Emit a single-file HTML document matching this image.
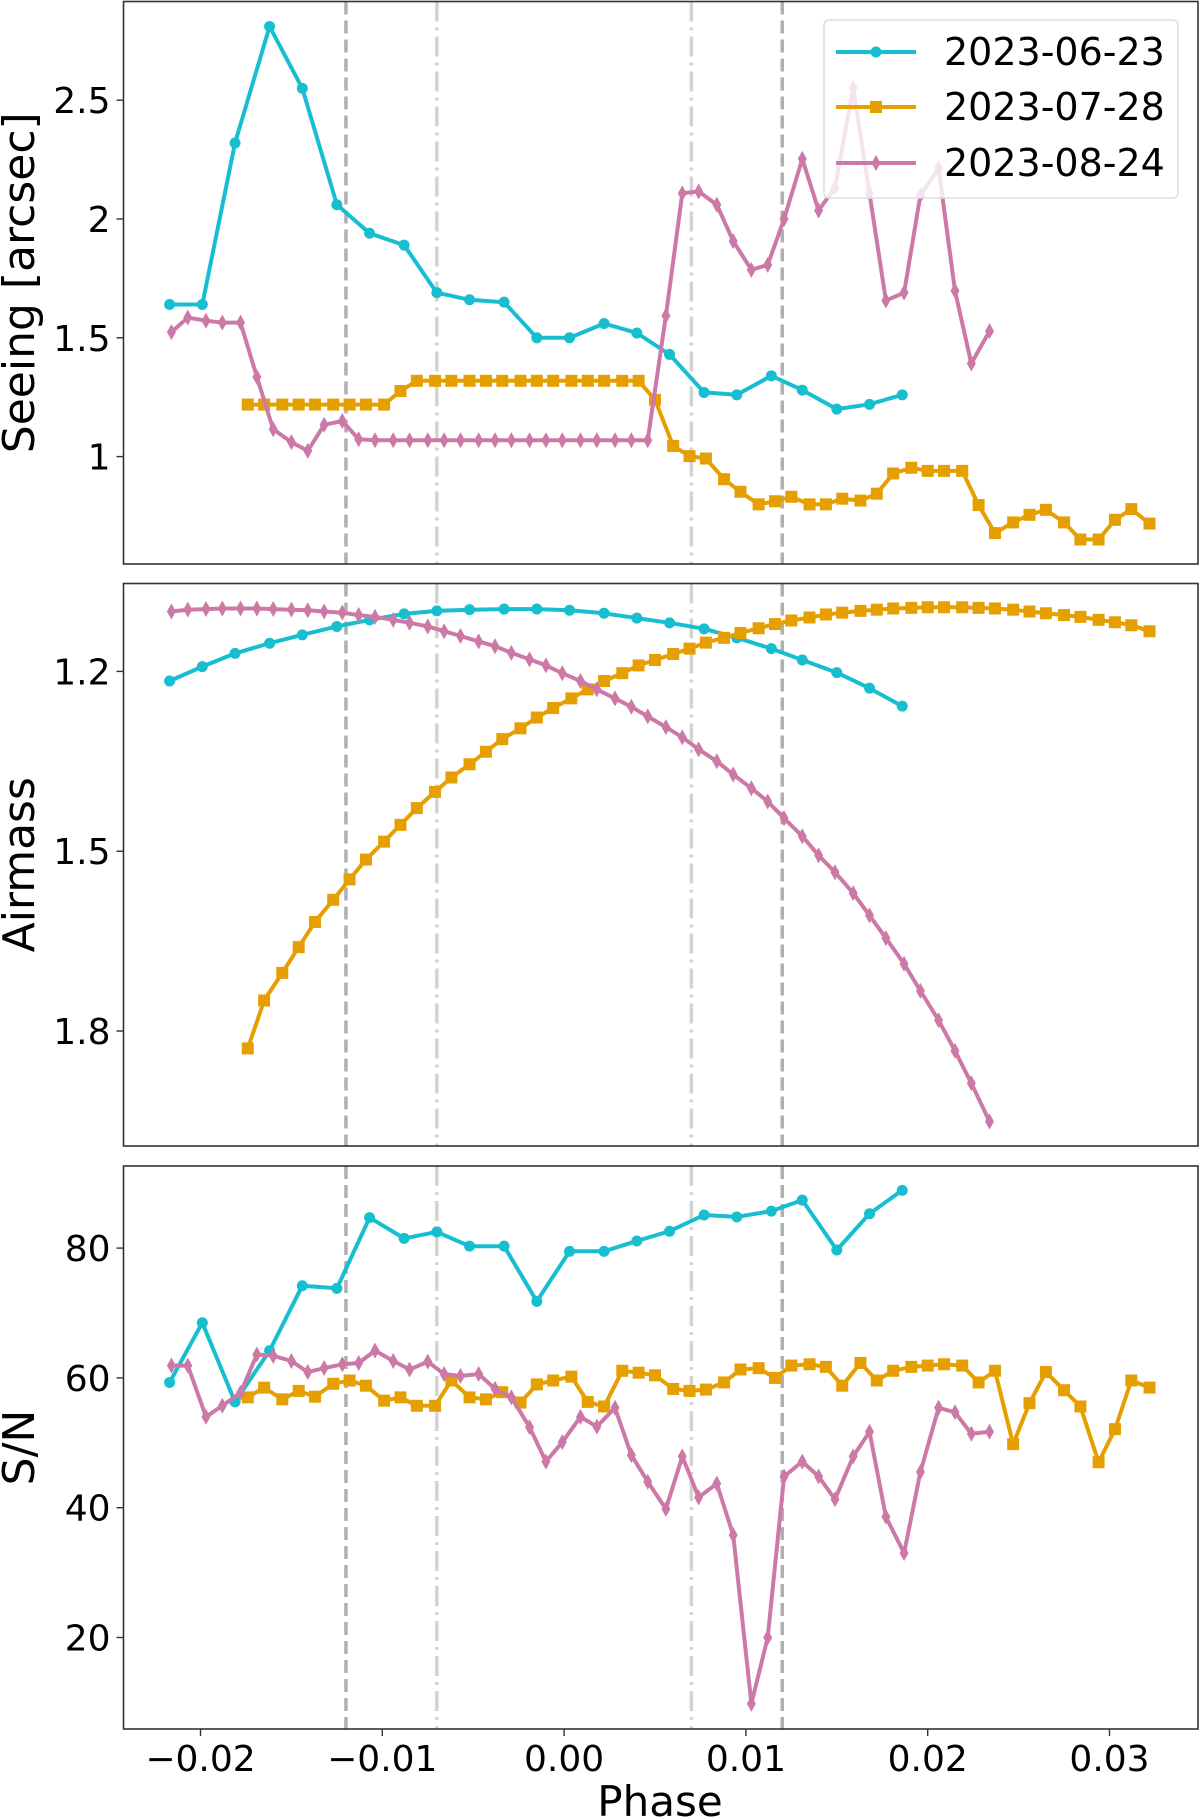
<!DOCTYPE html>
<html><head><meta charset="utf-8">
<style>
html,body{margin:0;padding:0;background:#fff;}
svg{display:block;font-family:"DejaVu Sans","Liberation Sans",sans-serif;}
</style></head>
<body>
<svg id="chart" width="1200" height="1819" viewBox="0 0 1200 1819" xmlns="http://www.w3.org/2000/svg"></svg>
<script>
// ---- data ----
const seriesNames = ["2023-06-23","2023-07-28","2023-08-24"];
const phaseCyan = [-0.0217,-0.0199,-0.0181,-0.0162,-0.0144,-0.0125,-0.0107,-0.0088,-0.0070,-0.0052,-0.0033,-0.0015,0.0003,0.0022,0.0040,0.0058,0.0077,0.0095,0.0114,0.0131,0.0150,0.0168,0.0186];
const phaseOrange = [-0.0174,-0.0165,-0.0155,-0.0146,-0.0137,-0.0127,-0.0118,-0.0109,-0.0099,-0.0090,-0.0081,-0.0071,-0.0062,-0.0052,-0.0043,-0.0034,-0.0024,-0.0015,-0.0006,0.0004,0.0013,0.0022,0.0032,0.0041,0.0050,0.0060,0.0069,0.0078,0.0088,0.0097,0.0107,0.0116,0.0125,0.0135,0.0144,0.0153,0.0163,0.0172,0.0181,0.0191,0.0200,0.0209,0.0219,0.0228,0.0237,0.0247,0.0256,0.0265,0.0275,0.0284,0.0294,0.0303,0.0312,0.0322];
const phasePink = [-0.0216,-0.0207,-0.0197,-0.0188,-0.0178,-0.0169,-0.0160,-0.0150,-0.0141,-0.0132,-0.0122,-0.0113,-0.0104,-0.0094,-0.0085,-0.0075,-0.0066,-0.0057,-0.0047,-0.0038,-0.0029,-0.0019,-0.0010,-0.0001,0.0009,0.0018,0.0028,0.0037,0.0046,0.0056,0.0065,0.0074,0.0084,0.0093,0.0103,0.0112,0.0121,0.0131,0.0140,0.0149,0.0159,0.0168,0.0177,0.0187,0.0196,0.0206,0.0215,0.0224,0.0234];

const seeingCyan = [1.64,1.64,2.32,2.81,2.55,2.06,1.94,1.89,1.69,1.66,1.65,1.50,1.50,1.56,1.52,1.43,1.27,1.26,1.34,1.28,1.20,1.22,1.26];
const seeingOrange = [1.219,1.219,1.219,1.219,1.219,1.219,1.219,1.219,1.219,1.276,1.319,1.319,1.319,1.319,1.319,1.319,1.319,1.319,1.319,1.319,1.319,1.319,1.319,1.319,1.239,1.045,1.002,0.992,0.905,0.852,0.799,0.812,0.831,0.799,0.799,0.823,0.815,0.844,0.929,0.953,0.940,0.940,0.940,0.796,0.678,0.723,0.755,0.776,0.723,0.651,0.651,0.734,0.779,0.718];
const seeingPink = [1.524,1.585,1.572,1.564,1.564,1.335,1.115,1.061,1.024,1.134,1.150,1.073,1.069,1.069,1.069,1.069,1.069,1.069,1.069,1.069,1.069,1.069,1.069,1.069,1.069,1.069,1.069,1.069,1.069,1.593,2.108,2.116,2.060,1.907,1.786,1.807,2.000,2.253,2.036,2.132,2.551,2.108,1.657,1.690,2.100,2.213,1.698,1.392,1.528];

const airCyan = [1.216,1.192,1.170,1.153,1.139,1.125,1.114,1.104,1.099,1.097,1.096,1.096,1.098,1.103,1.111,1.119,1.129,1.144,1.162,1.181,1.202,1.228,1.258];
const airOrange = [1.829,1.749,1.703,1.660,1.618,1.581,1.547,1.514,1.484,1.456,1.428,1.401,1.377,1.355,1.334,1.313,1.295,1.277,1.261,1.245,1.230,1.216,1.203,1.190,1.181,1.171,1.162,1.152,1.144,1.136,1.128,1.121,1.115,1.110,1.105,1.102,1.099,1.097,1.095,1.094,1.093,1.093,1.093,1.094,1.095,1.097,1.100,1.103,1.106,1.109,1.114,1.118,1.123,1.133];
const airPink = [1.100,1.097,1.096,1.095,1.095,1.095,1.096,1.097,1.098,1.100,1.102,1.106,1.109,1.114,1.119,1.125,1.133,1.141,1.150,1.158,1.169,1.180,1.190,1.203,1.216,1.230,1.245,1.259,1.275,1.293,1.310,1.330,1.350,1.372,1.395,1.417,1.445,1.475,1.507,1.535,1.570,1.607,1.645,1.688,1.733,1.782,1.833,1.887,1.951];

const snCyan = [59.3,68.5,56.3,64.2,74.2,73.8,84.7,81.5,82.5,80.3,80.3,71.8,79.5,79.5,81.1,82.6,85.1,84.8,85.7,87.4,79.7,85.3,88.9];
const snOrange = [57.0,58.5,56.7,58.0,57.1,59.1,59.6,58.8,56.5,57.0,55.7,55.7,59.6,57.0,56.7,57.8,56.2,59.0,59.6,60.2,56.3,55.6,61.1,60.8,60.4,58.3,58.0,58.2,59.3,61.3,61.5,60.0,61.9,62.1,61.7,58.8,62.3,59.6,61.1,61.7,61.9,62.1,61.9,59.3,61.1,49.8,56.1,60.9,58.1,55.6,47.0,52.1,59.6,58.5];
const snPink = [61.9,61.9,54.0,55.7,57.7,63.6,63.4,62.6,60.9,61.5,62.1,62.3,64.2,62.6,61.3,62.5,60.6,60.3,60.6,58.3,57.0,52.4,47.1,50.1,54.0,52.5,55.4,48.1,44.0,39.8,47.9,41.6,43.7,35.8,9.8,20.0,44.8,47.1,44.8,41.3,47.9,51.7,38.6,33.0,45.5,55.4,54.7,51.4,51.7];

const xTicks = [-0.02,-0.01,0.00,0.01,0.02,0.03];
const xTickLabels = ["\u22120.02","\u22120.01","0.00","0.01","0.02","0.03"];
const seeingTicks = [1,1.5,2,2.5];
const seeingTickLabels = ["1","1.5","2","2.5"];
const airTicks = [1.2,1.5,1.8];
const airTickLabels = ["1.2","1.5","1.8"];
const snTicks = [20,40,60,80];
const snTickLabels = ["20","40","60","80"];
const dashedLines = [-0.012,0.012];
const dashDotLines = [-0.007,0.007];

// ---- layout / scales ----
const L = 123.5, R = 1198;
const panels = [
  {name:"seeing", top:1.5, bottom:564, y:v=>456.6-(v-1)*237.6, ticks:seeingTicks, labels:seeingTickLabels, title:"Seeing [arcsec]",
   data:[seeingCyan,seeingOrange,seeingPink]},
  {name:"airmass", top:583.5, bottom:1146, y:v=>671.4+(v-1.2)*599.4, ticks:airTicks, labels:airTickLabels, title:"Airmass",
   data:[airCyan,airOrange,airPink]},
  {name:"sn", top:1166, bottom:1729, y:v=>1248.1-(v-80)*6.49, ticks:snTicks, labels:snTickLabels, title:"S/N",
   data:[snCyan,snOrange,snPink]}
];
const xs = p => 564.1 + p*18180;
const phases = [phaseCyan, phaseOrange, phasePink];
const colors = ["#17becf","#e69f00","#cc79a7"];
const markers = ["circle","square","diamond"];

const NS = "http://www.w3.org/2000/svg";
const svg = document.getElementById("chart");
function mk(tag, attrs, parent){
  const e = document.createElementNS(NS, tag);
  for (const k in attrs) e.setAttribute(k, attrs[k]);
  (parent||svg).appendChild(e);
  return e;
}
function marker(g, type, x, y, c){
  let m;
  if (type==="circle") m = mk("circle",{cx:x,cy:y,r:5.5,fill:c},g);
  else if (type==="square") m = mk("rect",{x:x-6,y:y-6,width:12,height:12,fill:c},g);
  else m = mk("polygon",{points:`${x},${y-8} ${x+4.5},${y} ${x},${y+8} ${x-4.5},${y}`,fill:c},g);
  return m;
}

panels.forEach((P, pi) => {
  const g = mk("g",{});
  
  
  const clipId = "clip"+pi;
  const cp = mk("clipPath",{id:clipId});
  mk("rect",{x:L,y:P.top,width:R-L,height:P.bottom-P.top},cp);

  dashedLines.forEach(p => {
    const ln = mk("line",{x1:xs(p),x2:xs(p),y1:P.top,y2:P.bottom,stroke:"#b0b0b0","stroke-width":3.5,"stroke-dasharray":"13,6"},g);
    
    
  });
  dashDotLines.forEach(p => {
    const ln = mk("line",{x1:xs(p),x2:xs(p),y1:P.top,y2:P.bottom,stroke:"#d3d3d3","stroke-width":3.5,"stroke-dasharray":"20,6,3,6"},g);
    
    
  });

  const sg = mk("g",{"clip-path":`url(#${clipId})`},g);
  P.data.forEach((vals, si) => {
    const ph = phases[si];
    const pts = vals.map((v,i)=>`${xs(ph[i]).toFixed(1)},${P.y(v).toFixed(1)}`).join(" ");
    const pl = mk("polyline",{points:pts,fill:"none",stroke:colors[si],"stroke-width":4,"stroke-linejoin":"round"},sg);
    
    
    vals.forEach((v,i)=>{
      const m = marker(sg, markers[si], xs(ph[i]), P.y(v), colors[si]);
      
      
    });
  });

  const fr = mk("rect",{x:L,y:P.top,width:R-L,height:P.bottom-P.top,fill:"none",stroke:"#333","stroke-width":1.6},g);
  
  

  P.ticks.forEach((t,i)=>{
    const y = P.y(t);
    mk("line",{x1:L-7,x2:L,y1:y,y2:y,stroke:"#333","stroke-width":1.4},g);
    const tx = mk("text",{x:L-13,y:y+13,"text-anchor":"end","font-size":36,fill:"#000"},g);
    tx.textContent = P.labels[i];
    
    
  });
  const cy = (P.top+P.bottom)/2;
  const yt = mk("text",{x:0,y:0,transform:`translate(34,${cy}) rotate(-90)`,"text-anchor":"middle","font-size":44,fill:"#000"},g);
  yt.textContent = P.title;
  
  
});

const bp = panels[2];
xTicks.forEach((t,i)=>{
  const x = xs(t);
  mk("line",{x1:x,x2:x,y1:bp.bottom,y2:bp.bottom+7,stroke:"#333","stroke-width":1.4});
  const tx = mk("text",{x:x,y:1771,"text-anchor":"middle","font-size":36,fill:"#000"});
  tx.textContent = xTickLabels[i];
  
  
});
const xt = mk("text",{x:660,y:1816,"text-anchor":"middle","font-size":42,fill:"#000"});
xt.textContent = "Phase";



const lg = mk("g",{});


mk("rect",{x:824,y:20,width:354,height:178,rx:5,fill:"rgba(255,255,255,0.8)",stroke:"#dddddd","stroke-width":1.5},lg);
[52,107,163].forEach((y,si)=>{
  const eg = mk("g",{},lg);
  
  
  mk("line",{x1:836,x2:916,y1:y,y2:y,stroke:colors[si],"stroke-width":4},eg);
  marker(eg, markers[si], 876, y, colors[si]);
  const t = mk("text",{x:944,y:y+13,"font-size":38,fill:"#000"},eg);
  t.textContent = seriesNames[si];
});
</script>
</body></html>
